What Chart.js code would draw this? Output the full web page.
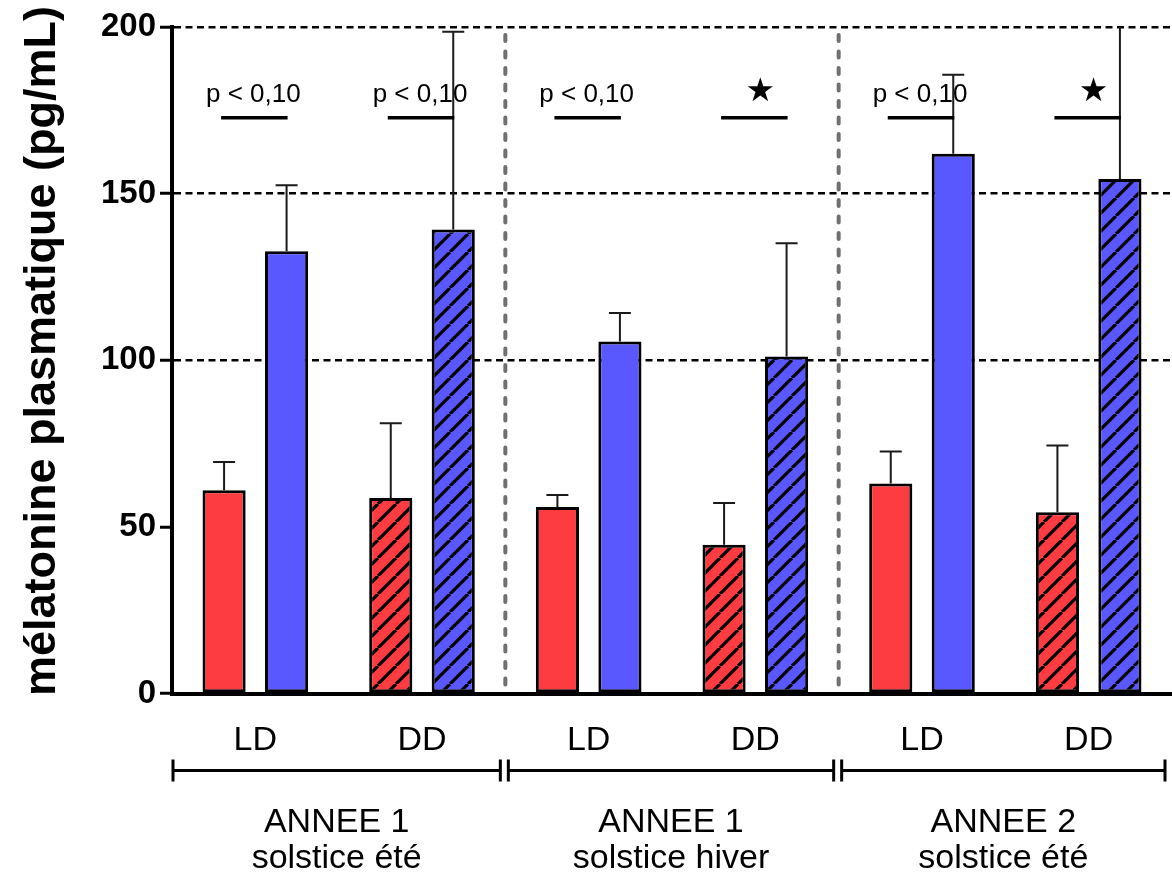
<!DOCTYPE html>
<html>
<head>
<meta charset="utf-8">
<script src="https://cdn.jsdelivr.net/npm/chart.js@4.4.0/dist/chart.umd.min.js"></script>
<style>
  html, body { margin: 0; padding: 0; background: #fff; }
  canvas { display: block; }
</style>
</head>
<body>
<canvas id="chart" width="1172" height="875"></canvas>
<script>
// Conditions (one per x category) and the study period each pair belongs to
const categories = ['LD', 'DD', 'LD', 'DD', 'LD', 'DD'];
const periods = ['ANNEE 1', 'ANNEE 1', 'ANNEE 2'];
const seasons = ['solstice été', 'solstice hiver', 'solstice été'];

// Plasma melatonin (pg/mL): mean and SEM
const jourMeans = [61.0, 58.7, 56.0, 44.6, 63.0, 54.4];
const jourSem   = [8.5, 22.4, 3.6, 12.6, 9.6, 20.0];
const nuitMeans = [132.7, 139.2, 105.6, 101.1, 162.0, 154.4];
const nuitSem   = [19.8, 59.4, 8.6, 34.0, 23.7, 55.0];

// Day vs night comparison result for each condition
const significance = ['p < 0,10', 'p < 0,10', 'p < 0,10', '★', 'p < 0,10', '★'];

const yTicks = [0, 50, 100, 150, 200];

const FONT = '"Liberation Sans", Arial, Helvetica, sans-serif';
const RED = '#FC3C41';
const BLUE = '#5858FE';

function hatch(color) {
  const s = 18;
  const c = document.createElement('canvas');
  c.width = s; c.height = s;
  const g = c.getContext('2d');
  g.fillStyle = color;
  g.fillRect(0, 0, s, s);
  g.strokeStyle = '#000';
  g.lineWidth = 3.2;
  g.beginPath();
  for (const k of [-s, 0, s]) {
    g.moveTo(k, s);
    g.lineTo(k + s, 0);
  }
  g.stroke();
  return g.createPattern(c, 'repeat');
}
const RED_HATCH = hatch(RED);
const BLUE_HATCH = hatch(BLUE);

function separatorX(xScale, g) {
  return (xScale.getPixelForValue(2 * g - 1) + xScale.getPixelForValue(2 * g)) / 2;
}

const decorations = {
  id: 'decorations',
  beforeDatasetsDraw(chart) {
    const { ctx, chartArea: a, scales: { x } } = chart;
    ctx.save();
    ctx.strokeStyle = '#6f6f6f';
    ctx.lineWidth = 4;
    ctx.lineCap = 'round';
    ctx.setLineDash([6, 10.5]);
    for (let g = 1; g < periods.length; g++) {
      const sx = separatorX(x, g);
      ctx.beginPath();
      ctx.moveTo(sx, a.top + 8);
      ctx.lineTo(sx, a.bottom);
      ctx.stroke();
    }
    ctx.restore();
  },
  afterDatasetsDraw(chart) {
    const { ctx, chartArea: a, scales: { x, y } } = chart;

    // SEM error bars (upper half only)
    ctx.save();
    ctx.beginPath();
    ctx.rect(a.left, a.top, a.right - a.left, a.bottom - a.top);
    ctx.clip();
    ctx.strokeStyle = '#1a1a1a';
    ctx.lineWidth = 2;
    [[0, jourMeans, jourSem], [1, nuitMeans, nuitSem]].forEach(([di, means, sem]) => {
      chart.getDatasetMeta(di).data.forEach((bar, i) => {
        const top = y.getPixelForValue(means[i] + sem[i]);
        ctx.beginPath();
        ctx.moveTo(bar.x, bar.y);
        ctx.lineTo(bar.x, top);
        ctx.moveTo(bar.x - 11, top);
        ctx.lineTo(bar.x + 11, top);
        ctx.stroke();
      });
    });
    ctx.restore();

    // significance markers between day and night bars
    ctx.save();
    const lineY = y.getPixelForValue(172.8);
    const textY = y.getPixelForValue(179.5);
    const jour = chart.getDatasetMeta(0).data;
    const nuit = chart.getDatasetMeta(1).data;
    significance.forEach((label, i) => {
      ctx.strokeStyle = '#000';
      ctx.lineWidth = 3.5;
      ctx.beginPath();
      ctx.moveTo(jour[i].x - 3, lineY);
      ctx.lineTo(nuit[i].x + 1, lineY);
      ctx.stroke();
      ctx.fillStyle = '#000';
      ctx.textAlign = 'center';
      ctx.textBaseline = 'middle';
      const cx = x.getPixelForValue(i);
      if (label === '★') {
        ctx.font = '33px "DejaVu Sans", sans-serif';
        ctx.fillText(label, cx + 5, textY - 3);
      } else {
        ctx.font = '26px ' + FONT;
        ctx.fillText(label, cx - 2, textY);
      }
    });
    ctx.restore();
  },
  afterDraw(chart) {
    const { ctx, chartArea: a, scales: { x } } = chart;
    ctx.save();

    // y axis title
    ctx.fillStyle = '#000';
    ctx.font = 'bold 45px ' + FONT;
    ctx.textAlign = 'center';
    ctx.textBaseline = 'alphabetic';
    ctx.translate(55, 351);
    ctx.rotate(-Math.PI / 2);
    ctx.fillText('mélatonine plasmatique (pg/mL)', 0, 0);
    ctx.setTransform(1, 0, 0, 1, 0, 0);

    // period brackets and captions
    const by = 770.5;
    ctx.strokeStyle = '#000';
    ctx.lineWidth = 3;
    ctx.font = '34px ' + FONT;
    ctx.textAlign = 'center';
    ctx.textBaseline = 'alphabetic';
    for (let g = 0; g < periods.length; g++) {
      const left = g === 0 ? a.left + 1 : separatorX(x, g) + 3;
      const right = g === periods.length - 1 ? a.right - 7 : separatorX(x, g + 1) - 5;
      ctx.beginPath();
      ctx.moveTo(left, by);
      ctx.lineTo(right, by);
      ctx.moveTo(left, by - 11);
      ctx.lineTo(left, by + 11);
      ctx.moveTo(right, by - 11);
      ctx.lineTo(right, by + 11);
      ctx.stroke();
      const cx = (left + right) / 2;
      ctx.fillText(periods[g], cx, 832);
      ctx.fillText(seasons[g], cx, 868);
    }
    ctx.restore();
  }
};

Chart.defaults.font.family = FONT;
Chart.defaults.color = '#000';

new Chart(document.getElementById('chart'), {
  type: 'bar',
  data: {
    labels: categories,
    datasets: [
      {
        label: 'Jour',
        data: jourMeans,
        backgroundColor: c => categories[c.dataIndex] === 'DD' ? RED_HATCH : RED,
        borderColor: '#000',
        borderWidth: 3,
        borderSkipped: false,
        categoryPercentage: 0.75,
        barPercentage: 0.69
      },
      {
        label: 'Nuit',
        data: nuitMeans,
        backgroundColor: c => categories[c.dataIndex] === 'DD' ? BLUE_HATCH : BLUE,
        borderColor: '#000',
        borderWidth: 3,
        borderSkipped: false,
        categoryPercentage: 0.75,
        barPercentage: 0.69
      }
    ]
  },
  options: {
    responsive: false,
    animation: false,
    devicePixelRatio: 1,
    layout: { padding: { top: 27, right: 0, bottom: 0, left: 0 } },
    plugins: {
      legend: { display: false },
      tooltip: { enabled: false }
    },
    scales: {
      x: {
        grid: { display: false, drawTicks: false },
        border: { display: true, color: '#000', width: 4 },
        ticks: { font: { size: 34 }, color: '#000', padding: 27, maxRotation: 0 },
        afterFit: s => { s.height = 181.5; }
      },
      y: {
        min: 0,
        max: 200,
        afterBuildTicks: s => { s.ticks = yTicks.map(v => ({ value: v })); },
        ticks: { font: { size: 33, weight: 'bold' }, color: '#000', padding: 4 },
        grid: {
          color: c => (c.tick && c.tick.value >= 100) ? '#000' : 'rgba(0,0,0,0)',
          lineWidth: 2.5,
          tickColor: '#000',
          tickWidth: 3,
          tickLength: 12
        },
        border: { display: true, color: '#000', width: 4, dash: [7, 4.5] },
        afterFit: s => { s.width = 172; }
      }
    }
  },
  plugins: [decorations]
});
</script>
</body>
</html>
